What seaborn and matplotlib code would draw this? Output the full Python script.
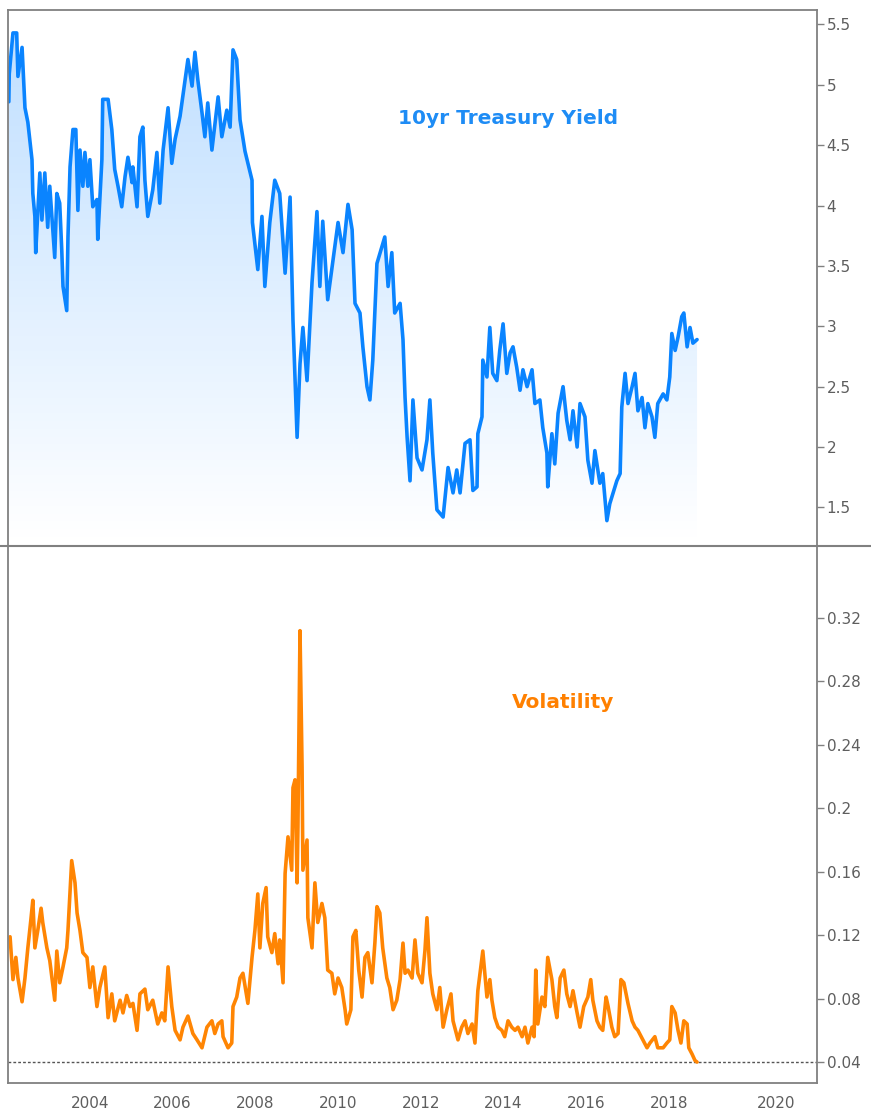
import matplotlib
matplotlib.use("Agg")
import matplotlib.pyplot as plt
import numpy as np
import pandas as pd
import seaborn as sns
from matplotlib.lines import Line2D

# 10yr treasury yield (decimal years, percent)
yield_years = [
    2002.04, 2002.05, 2002.14, 2002.23, 2002.26, 2002.36, 2002.43, 2002.50, 2002.60, 2002.62,
    2002.67, 2002.69, 2002.79, 2002.84, 2002.91, 2002.98, 2003.03, 2003.11, 2003.15, 2003.20,
    2003.27, 2003.32, 2003.35, 2003.44, 2003.47, 2003.52, 2003.59, 2003.66, 2003.71, 2003.76,
    2003.83, 2003.88, 2003.95, 2004.00, 2004.07, 2004.17, 2004.19, 2004.29, 2004.31, 2004.44,
    2004.53, 2004.60, 2004.68, 2004.77, 2004.85, 2004.92, 2005.02, 2005.04, 2005.14, 2005.21,
    2005.28, 2005.33, 2005.40, 2005.52, 2005.62, 2005.69, 2005.77, 2005.89, 2005.98, 2006.06,
    2006.18, 2006.30, 2006.37, 2006.47, 2006.54, 2006.61, 2006.71, 2006.78, 2006.85, 2006.95,
    2007.10, 2007.19, 2007.31, 2007.39, 2007.46, 2007.55, 2007.63, 2007.75, 2007.92, 2007.93,
    2008.06, 2008.16, 2008.23, 2008.35, 2008.47, 2008.59, 2008.72, 2008.84, 2008.91, 2009.01,
    2009.08, 2009.15, 2009.25, 2009.37, 2009.49, 2009.56, 2009.63, 2009.75, 2009.88, 2010.00,
    2010.12, 2010.24, 2010.34, 2010.41, 2010.53, 2010.60, 2010.70, 2010.77, 2010.84, 2010.94,
    2011.06, 2011.13, 2011.21, 2011.30, 2011.37, 2011.50, 2011.57, 2011.62, 2011.67, 2011.74,
    2011.81, 2011.91, 2012.03, 2012.15, 2012.22, 2012.29, 2012.39, 2012.54, 2012.66, 2012.78,
    2012.87, 2012.95, 2013.07, 2013.19, 2013.26, 2013.36, 2013.38, 2013.48, 2013.50, 2013.60,
    2013.67, 2013.74, 2013.84, 2013.91, 2013.99, 2014.08, 2014.16, 2014.23, 2014.32, 2014.40,
    2014.47, 2014.57, 2014.69, 2014.76, 2014.88, 2014.95, 2015.05, 2015.07, 2015.17, 2015.24,
    2015.32, 2015.44, 2015.53, 2015.61, 2015.68, 2015.78, 2015.85, 2015.97, 2016.04, 2016.14,
    2016.21, 2016.33, 2016.40, 2016.50, 2016.57, 2016.65, 2016.74, 2016.82, 2016.86, 2016.94,
    2017.01, 2017.11, 2017.18, 2017.25, 2017.35, 2017.42, 2017.49, 2017.59, 2017.66, 2017.73,
    2017.86, 2017.95, 2018.02, 2018.07, 2018.15, 2018.22, 2018.31, 2018.36, 2018.44, 2018.51,
    2018.58, 2018.68,
]
yield_values = [
    4.86, 5.09, 5.43, 5.43, 5.07, 5.31, 4.81, 4.69, 4.38, 4.10,
    3.91, 3.61, 4.27, 3.88, 4.27, 3.82, 4.16, 3.77, 3.57, 4.10,
    4.02, 3.63, 3.33, 3.13, 3.74, 4.32, 4.63, 4.63, 3.96, 4.46,
    4.16, 4.44, 4.16, 4.38, 3.99, 4.05, 3.72, 4.38, 4.88, 4.88,
    4.63, 4.30, 4.16, 3.99, 4.24, 4.40, 4.19, 4.32, 3.99, 4.57,
    4.65, 4.21, 3.91, 4.13, 4.44, 4.02, 4.46, 4.81, 4.35, 4.55,
    4.74, 5.04, 5.21, 4.99, 5.27, 5.04, 4.77, 4.57, 4.85, 4.46,
    4.90, 4.57, 4.79, 4.65, 5.29, 5.21, 4.71, 4.45, 4.21, 3.86,
    3.47, 3.91, 3.33, 3.86, 4.21, 4.10, 3.44, 4.07, 3.05, 2.08,
    2.69, 2.99, 2.55, 3.36, 3.95, 3.33, 3.87, 3.22, 3.55, 3.86,
    3.61, 4.01, 3.80, 3.19, 3.11, 2.83, 2.50, 2.39, 2.72, 3.52,
    3.66, 3.74, 3.33, 3.61, 3.11, 3.19, 2.89, 2.41, 2.08, 1.72,
    2.39, 1.91, 1.81, 2.06, 2.39, 1.95, 1.48, 1.42, 1.83, 1.62,
    1.81, 1.62, 2.03, 2.06, 1.64, 1.67, 2.11, 2.25, 2.72, 2.58,
    2.99, 2.61, 2.55, 2.80, 3.02, 2.61, 2.78, 2.83, 2.66, 2.47,
    2.64, 2.50, 2.64, 2.36, 2.39, 2.16, 1.95, 1.67, 2.11, 1.86,
    2.28, 2.50, 2.22, 2.06, 2.30, 2.00, 2.36, 2.25, 1.89, 1.70,
    1.97, 1.70, 1.78, 1.39, 1.53, 1.62, 1.72, 1.78, 2.33, 2.61,
    2.36, 2.50, 2.61, 2.30, 2.41, 2.16, 2.36, 2.25, 2.08, 2.36,
    2.44, 2.39, 2.58, 2.94, 2.80, 2.91, 3.08, 3.11, 2.83, 2.99,
    2.86, 2.89,
]

# volatility of the yield
vol_years = [
    2002.07, 2002.14, 2002.21, 2002.26, 2002.36, 2002.43, 2002.50, 2002.57, 2002.62, 2002.67,
    2002.74, 2002.82, 2002.86, 2002.96, 2003.03, 2003.15, 2003.20, 2003.27, 2003.35, 2003.44,
    2003.47, 2003.56, 2003.64, 2003.69, 2003.76, 2003.83, 2003.93, 2004.00, 2004.07, 2004.17,
    2004.24, 2004.36, 2004.44, 2004.53, 2004.60, 2004.73, 2004.80, 2004.89, 2004.97, 2005.04,
    2005.14, 2005.21, 2005.33, 2005.40, 2005.52, 2005.64, 2005.74, 2005.81, 2005.89, 2005.98,
    2006.06, 2006.18, 2006.25, 2006.37, 2006.49, 2006.59, 2006.71, 2006.83, 2006.95, 2007.02,
    2007.10, 2007.19, 2007.22, 2007.34, 2007.43, 2007.46, 2007.55, 2007.63, 2007.70, 2007.82,
    2007.92, 2007.99, 2008.06, 2008.11, 2008.18, 2008.26, 2008.30, 2008.40, 2008.47, 2008.55,
    2008.59, 2008.67, 2008.72, 2008.79, 2008.88, 2008.91, 2008.96, 2009.01, 2009.03, 2009.08,
    2009.13, 2009.15, 2009.25, 2009.27, 2009.37, 2009.44, 2009.51, 2009.61, 2009.68, 2009.75,
    2009.85, 2009.92, 2010.00, 2010.09, 2010.17, 2010.21, 2010.31, 2010.36, 2010.43, 2010.50,
    2010.58, 2010.65, 2010.72, 2010.82, 2010.89, 2010.94, 2011.01, 2011.08, 2011.18, 2011.25,
    2011.33, 2011.42, 2011.50, 2011.57, 2011.62, 2011.69, 2011.79, 2011.86, 2011.93, 2012.03,
    2012.10, 2012.15, 2012.22, 2012.29, 2012.39, 2012.46, 2012.54, 2012.63, 2012.73, 2012.78,
    2012.90, 2012.99, 2013.07, 2013.14, 2013.24, 2013.31, 2013.38, 2013.48, 2013.50, 2013.60,
    2013.67, 2013.72, 2013.79, 2013.87, 2013.96, 2014.03, 2014.11, 2014.20, 2014.28, 2014.35,
    2014.45, 2014.52, 2014.59, 2014.69, 2014.74, 2014.78, 2014.83, 2014.93, 2015.00, 2015.07,
    2015.17, 2015.24, 2015.29, 2015.37, 2015.46, 2015.53, 2015.61, 2015.68, 2015.78, 2015.85,
    2015.94, 2016.04, 2016.11, 2016.16, 2016.26, 2016.33, 2016.40, 2016.48, 2016.53, 2016.62,
    2016.69, 2016.77, 2016.84, 2016.91, 2017.01, 2017.11, 2017.18, 2017.25, 2017.37, 2017.47,
    2017.54, 2017.66, 2017.73, 2017.86, 2017.95, 2018.02, 2018.07, 2018.15, 2018.22, 2018.29,
    2018.36, 2018.44, 2018.48, 2018.56, 2018.63, 2018.68,
]
vol_values = [
    0.119, 0.092, 0.106, 0.093, 0.078, 0.093, 0.112, 0.129, 0.142, 0.112,
    0.123, 0.137, 0.128, 0.112, 0.104, 0.079, 0.110, 0.090, 0.100, 0.112,
    0.123, 0.167, 0.153, 0.134, 0.123, 0.109, 0.106, 0.087, 0.100, 0.075,
    0.087, 0.100, 0.068, 0.083, 0.066, 0.079, 0.071, 0.082, 0.075, 0.077,
    0.060, 0.083, 0.086, 0.073, 0.079, 0.064, 0.071, 0.066, 0.100, 0.075,
    0.060, 0.054, 0.062, 0.069, 0.058, 0.054, 0.049, 0.062, 0.066, 0.058,
    0.064, 0.066, 0.056, 0.049, 0.052, 0.075, 0.081, 0.093, 0.096, 0.077,
    0.106, 0.123, 0.146, 0.112, 0.140, 0.150, 0.119, 0.109, 0.121, 0.102,
    0.117, 0.090, 0.159, 0.182, 0.161, 0.213, 0.218, 0.153, 0.188, 0.312,
    0.226, 0.161, 0.180, 0.131, 0.112, 0.153, 0.128, 0.140, 0.131, 0.098,
    0.096, 0.083, 0.093, 0.087, 0.073, 0.064, 0.073, 0.119, 0.123, 0.098,
    0.081, 0.106, 0.109, 0.090, 0.115, 0.138, 0.134, 0.112, 0.093, 0.087,
    0.073, 0.079, 0.092, 0.115, 0.096, 0.098, 0.093, 0.117, 0.096, 0.090,
    0.110, 0.131, 0.096, 0.083, 0.073, 0.087, 0.062, 0.073, 0.083, 0.066,
    0.054, 0.062, 0.066, 0.058, 0.064, 0.052, 0.085, 0.106, 0.110, 0.081,
    0.092, 0.079, 0.068, 0.062, 0.060, 0.056, 0.066, 0.062, 0.060, 0.062,
    0.056, 0.062, 0.052, 0.062, 0.056, 0.098, 0.064, 0.081, 0.075, 0.106,
    0.092, 0.075, 0.068, 0.093, 0.098, 0.083, 0.075, 0.085, 0.071, 0.062,
    0.075, 0.081, 0.092, 0.079, 0.066, 0.062, 0.060, 0.081, 0.075, 0.062,
    0.056, 0.058, 0.092, 0.090, 0.077, 0.066, 0.062, 0.060, 0.054, 0.049,
    0.052, 0.056, 0.049, 0.049, 0.052, 0.054, 0.075, 0.071, 0.060, 0.052,
    0.066, 0.064, 0.049, 0.045, 0.041, 0.040,
]

vol_ref_level = 0.04
yield_ticks = [1.5, 2, 2.5, 3, 3.5, 4, 4.5, 5, 5.5]
yield_tick_labels = ["1.5", "2", "2.5", "3", "3.5", "4", "4.5", "5", "5.5"]
vol_ticks = [0.04, 0.08, 0.12, 0.16, 0.2, 0.24, 0.28, 0.32]
vol_tick_labels = ["0.04", "0.08", "0.12", "0.16", "0.2", "0.24", "0.28", "0.32"]
year_labels = ["2004", "2006", "2008", "2010", "2012", "2014", "2016", "2018", "2020"]
# the platform stretches the empty future part, so 2020 sits a bit further right
year_tick_pos = [2004, 2006, 2008, 2010, 2012, 2014, 2016, 2018, 2020.6]

yield_df = pd.DataFrame({"year": yield_years, "yield": yield_values})
vol_df = pd.DataFrame({"year": vol_years, "vol": vol_values})

BLUE = "#0a84ff"
ORANGE = "#ff8503"
GRID_GREY = "#808080"
LABEL_GREY = "#5e5e5e"

sns.set_style("white")
plt.rcParams["font.family"] = ["DejaVu Sans"]

W, H = 871, 1114
fig = plt.figure(figsize=(W / 100, H / 100), dpi=100)
left, right = 8 / W, 817 / W
ax1 = fig.add_axes([left, 1 - 546 / H, right - left, (546 - 10) / H])
ax2 = fig.add_axes([left, 1 - 1083 / H, right - left, (1083 - 546) / H])

xlim = (2002.02, 2021.58)
ylim1 = (1.18, 5.62)

# --- top panel: yield with gradient fill
sns.lineplot(data=yield_df, x="year", y="yield", ax=ax1, color=BLUE,
             linewidth=2.6, estimator=None, sort=False)
fill = ax1.fill_between(yield_df["year"], yield_df["yield"], ylim1[0],
                        facecolor="none", edgecolor="none")
grad = np.zeros((256, 1, 4))
grad[:, 0, 0] = 0.04
grad[:, 0, 1] = 0.52
grad[:, 0, 2] = 1.0
grad[:, 0, 3] = np.linspace(0.27, 0.0, 256)
im = ax1.imshow(grad, aspect="auto", extent=[xlim[0], xlim[1], ylim1[0], ylim1[1]],
                origin="upper", zorder=1)
im.set_clip_path(fill.get_paths()[0], transform=ax1.transData)
ax1.set_xlim(*xlim)
ax1.set_ylim(*ylim1)

ax1.text(0.618, 0.797, "10yr Treasury Yield", transform=ax1.transAxes,
         color="#1e8cf5", fontsize=14.5, fontweight="bold", ha="center", va="center")

# --- bottom panel: volatility
sns.lineplot(data=vol_df, x="year", y="vol", ax=ax2, color=ORANGE,
             linewidth=2.6, estimator=None, sort=False)
ax2.axhline(vol_ref_level, color="#555555", linewidth=1, linestyle=(0, (2, 1.5)), zorder=1)
ax2.set_xlim(*xlim)
ax2.set_ylim(0.0268, 0.3654)
ax2.text(0.686, 0.708, "Volatility", transform=ax2.transAxes,
         color="#ff8000", fontsize=14.5, fontweight="bold", ha="center", va="center")

for ax, ticks, labels in [(ax1, yield_ticks, yield_tick_labels), (ax2, vol_ticks, vol_tick_labels)]:
    ax.set_xlabel("")
    ax.set_ylabel("")
    ax.yaxis.tick_right()
    ax.set_yticks(ticks)
    ax.set_yticklabels(labels)
    ax.tick_params(axis="y", direction="out", length=5, width=1, color=GRID_GREY,
                   labelcolor=LABEL_GREY, labelsize=11, pad=2)
    for s in ax.spines.values():
        s.set_color(GRID_GREY)
        s.set_linewidth(1.3)

ax1.spines["bottom"].set_visible(False)
ax1.set_xticks([])
ax2.spines["top"].set_visible(False)
ax2.set_xticks(year_tick_pos)
ax2.set_xticklabels(year_labels)
ax2.tick_params(axis="x", direction="out", length=6, width=1, color=GRID_GREY,
                labelcolor=LABEL_GREY, labelsize=11, pad=3)

# separator between panels runs across the whole window
fig.add_artist(Line2D([0, 1], [1 - 546 / H, 1 - 546 / H], transform=fig.transFigure,
                      color=GRID_GREY, linewidth=1.5))

fig.savefig("out.png", dpi=100)
